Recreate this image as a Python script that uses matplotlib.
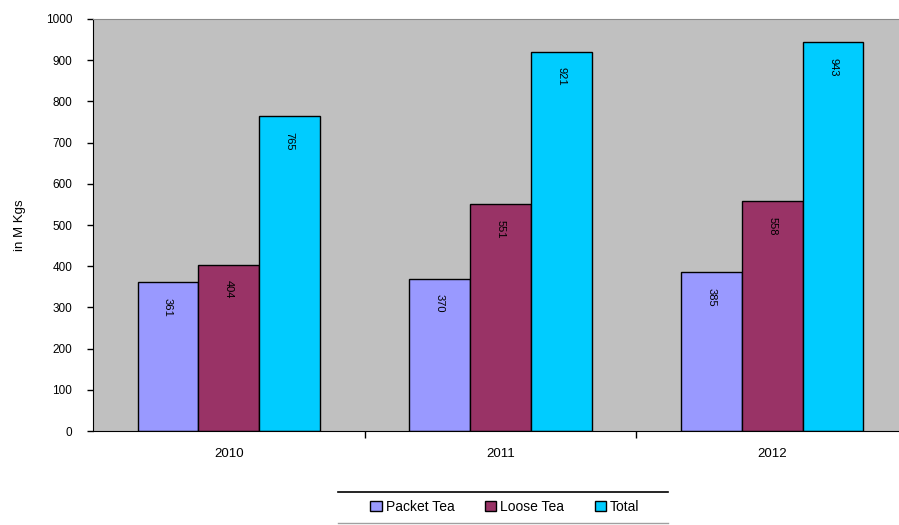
import matplotlib
matplotlib.use("Agg")
import matplotlib.pyplot as plt
import numpy as np
from matplotlib.patches import Patch
from matplotlib.lines import Line2D

plt.rcParams["font.family"] = ["Liberation Sans", "DejaVu Sans"]

years = ["2010", "2011", "2012"]
packet_tea = [361, 370, 385]
loose_tea = [404, 551, 558]
total = [765, 921, 943]

series_names = ["Packet Tea", "Loose Tea", "Total"]
series_vals = [packet_tea, loose_tea, total]
series_colors = ["#9999FF", "#993366", "#00CCFF"]

fig = plt.figure(figsize=(8.99, 5.25), dpi=100)
# plot area runs past the right edge of the image, as in the reference
ax = fig.add_axes([93 / 899, 94 / 525, 815 / 899, 412 / 525])
ax.set_facecolor("#C0C0C0")

x = np.arange(len(years))
bw = 0.224
for k, (name, vals, col) in enumerate(zip(series_names, series_vals, series_colors)):
    pos = x + (k - 1) * bw
    bars = ax.bar(pos, vals, width=bw, color=col, edgecolor="black", linewidth=1.0, label=name)
    for b, v in zip(bars, vals):
        ax.annotate(str(v), (b.get_x() + b.get_width() / 2, v), xytext=(0, -18),
                    textcoords="offset points", ha="center", va="center",
                    rotation=-90, fontsize=8, color="black")

ax.set_xlim(-0.5, 2.5)
ax.set_ylim(0, 1000)
ax.set_yticks(np.arange(0, 1001, 100))
ax.tick_params(axis="y", labelsize=8.5, length=4, direction="out", width=1, pad=11)

# tick marks between categories, labels at centres
ax.set_xticks([0.5, 1.5, 2.5])
ax.set_xticklabels([])
ax.tick_params(axis="x", which="major", length=5, direction="out", width=1)
ax.set_xticks(x, minor=True)
ax.set_xticklabels(years, minor=True, fontsize=9.5)
ax.tick_params(axis="x", which="minor", length=0, pad=12)

ax.spines["left"].set_color("black")
ax.spines["bottom"].set_color("black")
ax.spines["top"].set_color("#8a8a8a")
ax.spines["top"].set_linewidth(0.8)
ax.spines["right"].set_visible(False)

ax.set_ylabel("in M Kgs", fontsize=9.5, labelpad=14)

handles = [Patch(facecolor=c, edgecolor="black", linewidth=1) for c in series_colors]
fig.legend(handles, series_names, loc="center", bbox_to_anchor=(505 / 899, 1 - 507 / 525),
           ncol=3, frameon=False, fontsize=10, handlelength=0.8, handleheight=0.8,
           handletextpad=0.3, columnspacing=2.2)
fig.add_artist(Line2D([338 / 899, 668 / 899], [1 - 492 / 525] * 2, color="black", lw=1.2))
fig.add_artist(Line2D([338 / 899, 668 / 899], [1 - 523 / 525] * 2, color="#a0a0a0", lw=1.0))

fig.savefig("out.png", dpi=100)
